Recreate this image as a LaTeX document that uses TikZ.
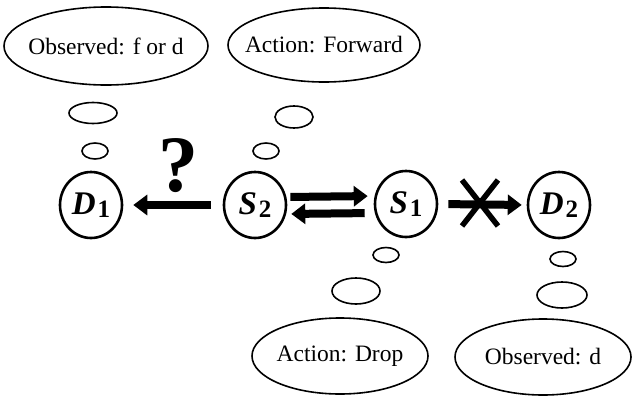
\documentclass[tikz,border=0pt]{standalone}
\usepackage{fontspec}
\setmainfont{Liberation Serif}
\usetikzlibrary{shapes.geometric,arrows.meta}
\newcommand{\zb}[1]{\makebox[0pt]{#1}}
\tikzset{
  cloud/.style={draw, ellipse, line width=1.6pt, inner sep=0pt, font=\fontsize{23.5}{25}\selectfont},
  puff/.style={draw, ellipse, line width=1.6pt, inner sep=0pt},
  state/.style={draw, ellipse, line width=2.6pt, inner sep=0pt, minimum width=62pt, minimum height=66pt},
  fat/.style={line width=8pt, -{Triangle[length=14pt,width=20pt]}},
  cross/.style={line width=5.5pt},
}
\newcommand{\lab}[2]{{\fontsize{33}{33}\selectfont\bfseries\itshape #1}\kern2pt\raisebox{-0.55ex}{\fontsize{25}{25}\selectfont\bfseries #2}}
\begin{document}
\begin{tikzpicture}[x=1pt,y=-1pt]
\useasboundingbox (0,0) rectangle (632,399);
% state nodes
\node[state] (D1) at (91,205) {\lab{D}{1}};
\node[state] (S2) at (255,205) {\lab{S}{2}};
\node[state] (S1) at (406,204) {\lab{S}{1}};
\node[state] (D2) at (559,205) {\lab{D}{2}};
% thought clouds
\node[cloud, minimum width=204pt, minimum height=78pt] (c1) at (106,46) {\zb{Observed: f or d}};
\node[cloud, minimum width=192pt, minimum height=74pt] (c2) at (324,45) {\zb{Action: Forward}};
\node[cloud, minimum width=176pt, minimum height=76pt] (c3) at (340,356) {\zb{Action: Drop}};
\node[cloud, minimum width=176pt, minimum height=76pt] (c4) at (543,357) {\zb{Observed: d}};
% puffs
\node[puff, minimum width=48pt, minimum height=21pt] (p1a) at (93,113) {};
\node[puff, minimum width=26pt, minimum height=16pt] (p1b) at (95,151) {};
\node[puff, minimum width=38pt, minimum height=22pt] (p2a) at (294,117) {};
\node[puff, minimum width=26pt, minimum height=16pt] (p2b) at (266,151) {};
\node[puff, minimum width=26pt, minimum height=15pt] (p3a) at (386,255) {};
\node[puff, minimum width=48pt, minimum height=26pt] (p3b) at (356,291) {};
\node[puff, minimum width=26pt, minimum height=15pt] (p4a) at (563,259) {};
\node[puff, minimum width=50pt, minimum height=26pt] (p4b) at (562,295) {};
% question mark
\node[font=\fontsize{80}{80}\selectfont\bfseries, inner sep=0pt] (q) at (178,166) {?};
% arrows
\draw[fat, shorten <=12pt, shorten >=10pt] (S2.west) -- (D1.east);
\draw[fat, shorten <=3pt, shorten >=6pt] ([yshift=8pt]S2.east) -- ([yshift=8pt]S1.west);
\draw[fat, shorten <=9pt, shorten >=4pt] ([yshift=-9pt]S1.west) -- ([yshift=-9pt]S2.east);
\draw[fat, shorten <=10pt, shorten >=5pt] (S1.east) -- (D2.west);
% cross
\coordinate (xm) at (480,203);
\draw[cross] ([shift={(-18,-23)}]xm) -- ([shift={(18,23)}]xm);
\draw[cross] ([shift={(18,-23)}]xm) -- ([shift={(-18,23)}]xm);
\end{tikzpicture}
\end{document}
